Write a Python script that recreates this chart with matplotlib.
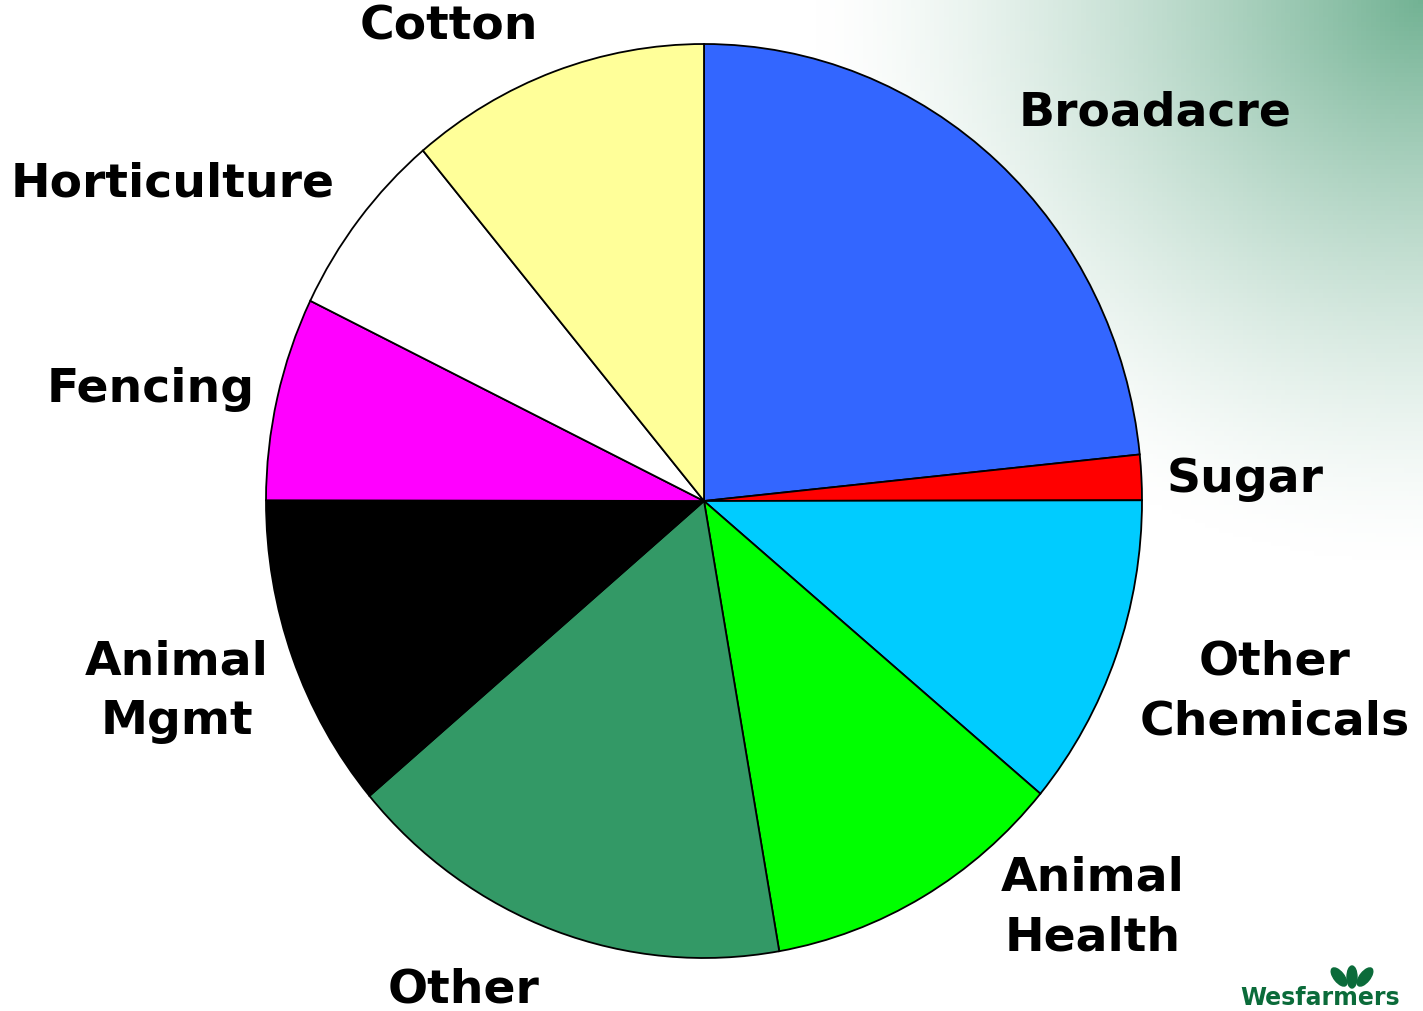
import matplotlib.pyplot as plt
import numpy as np
from matplotlib.patches import Ellipse

# shares of sales by segment (%)
labels = ['Broadacre', 'Sugar', 'Other\nChemicals', 'Animal\nHealth', 'Other',
          'Animal\nMgmt', 'Fencing', 'Horticulture', 'Cotton']
shares = [23.4, 1.6, 11.1, 11.2, 16.6, 11.2, 7.2, 6.7, 11.1]
colors = ['#3366ff', '#ff0000', '#00ccff', '#00ff00', '#339966',
          '#000000', '#ff00ff', '#ffffff', '#ffff99']
# label centres in pixels
label_pos = [(1155, 113), (1245, 480), (1275, 692), (1093, 908), (464, 990),
             (177, 692), (151, 389), (173, 184), (449, 27)]

W, H = 1423, 1012
cx, cy = 704, 502
rx, ry = 438, 457


def px(x, y):
    return (x - cx) / rx, (cy - y) / ry


fig = plt.figure(figsize=(W / 100, H / 100), dpi=100)
ax = fig.add_axes([0, 0, 1, 1])

# soft green wash in the top right corner
gx, gy = np.meshgrid(np.linspace(0, W, 300), np.linspace(0, H, 220))
d = np.hypot((gx - W) * 1.25, gy * 1.35)
t = np.clip(1 - d / 760, 0, 1) ** 1.4
base = np.array([1.0, 1.0, 1.0])
green = np.array([0.45, 0.70, 0.58])
img = base[None, None, :] * (1 - t[..., None]) + green[None, None, :] * t[..., None]
ax.imshow(img, extent=(px(0, 0)[0], px(W, 0)[0], px(0, H)[1], px(0, 0)[1]),
          origin='upper', aspect='auto', zorder=0)

wedges, _ = ax.pie(shares, colors=colors, startangle=90, counterclock=False,
                   radius=1, center=(0, 0), frame=True,
                   wedgeprops=dict(edgecolor='black', linewidth=1.3))
for w in wedges:
    w.set_zorder(2)

ax.set_aspect('auto')
ax.set_xlim(px(0, 0)[0], px(W, 0)[0])
ax.set_ylim(px(0, H)[1], px(0, 0)[1])
ax.axis('off')

for lab, (lx, ly) in zip(labels, label_pos):
    ax.text(*px(lx, ly), lab, ha='center', va='center',
            fontsize=34, fontweight='bold', family='DejaVu Sans',
            linespacing=1.42, zorder=3)

# company logo in the bottom right corner
for dx, ang in [(-13, 40), (0, 0), (13, -40)]:
    ax.add_patch(Ellipse(px(1352 + dx, 978), 10 / rx, 22 / ry, angle=ang,
                         color='#0b6b3a', zorder=3))
ax.text(*px(1240, 1010), 'Wesfarmers', ha='left', va='bottom',
        fontsize=17, fontweight='bold', color='#0b6b3a', zorder=3)

fig.savefig('out.png', dpi=100)
